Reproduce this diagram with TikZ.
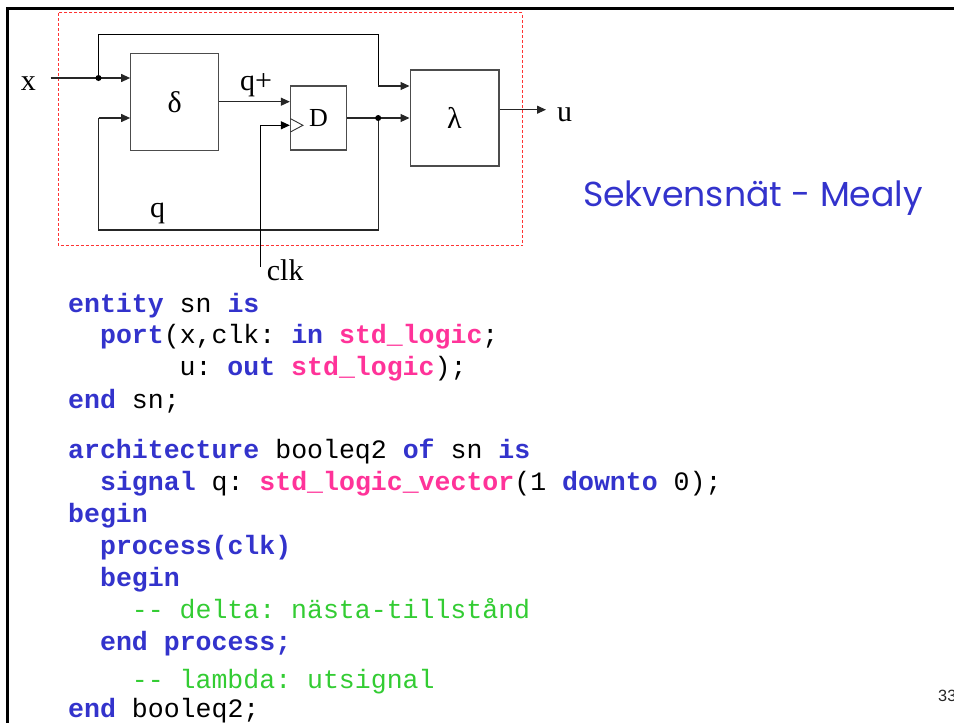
\documentclass[tikz,border=0pt]{standalone}
\usepackage{fontspec}
\setmainfont{Liberation Serif}
\newfontfamily\codefont[WordSpace={1,0,0}]{Liberation Mono}
\newfontfamily\titlefont{Poppins}
\newfontfamily\numfont{Liberation Sans}
\usetikzlibrary{arrows.meta}
\definecolor{kwblue}{RGB}{51,51,204}
\definecolor{typink}{RGB}{255,51,153}
\definecolor{cmgreen}{RGB}{51,204,51}
\definecolor{dashred}{RGB}{255,51,51}
\newcommand{\kw}[1]{{\bfseries\color{kwblue}#1}}
\newcommand{\ty}[1]{{\bfseries\color{typink}#1}}
\newcommand{\cm}[1]{{\color{cmgreen}#1}}
\tikzset{
  blockbox/.style={draw=black!70, line width=1.1pt, inner sep=0pt, font=\fontsize{30}{34}\selectfont},
  wire/.style={draw=black!85, line width=1.1pt},
  arr/.style={wire, -{Triangle[length=9pt,width=8pt]}},
  lbl/.style={anchor=base west, inner sep=0pt, font=\fontsize{30}{34}\selectfont},
  codeline/.style={anchor=base west, inner sep=0pt, font=\codefont\fontsize{26.55}{30}\selectfont\frenchspacing},
  junction/.style={circle, fill=black, inner sep=0pt, minimum size=6pt},
}
\begin{document}
\begin{tikzpicture}[x=1pt,y=-1pt]
\useasboundingbox (0,0) rectangle (954,723);
% slide frame
\draw[line width=2.6pt] (7.5,724) -- (7.5,8.6) -- (955,8.6);
% red dashed enclosure
\draw[dashred, line width=1pt, dash pattern=on 3pt off 2pt] (58.2,12.9) rectangle (522.7,245.5);
% blocks
\node[blockbox, minimum width=88pt, minimum height=96.3pt] (delta) at (174.7,101.9) {δ};
\node[blockbox, minimum width=56.4pt, minimum height=64pt, font=\fontsize{26}{30}\selectfont] (dff) at (318.6,118) {D};
\node[blockbox, minimum width=88.9pt, minimum height=96pt] (lambda) at (454.5,118) {λ};
% clock triangle
\draw[black!80, line width=0.9pt] (290.4,118.6) -- (302.9,125.3) -- (290.4,132);
% coordinates
\coordinate (xin) at (50.7,78);
\coordinate (ja) at (98.5,78);
\coordinate (topl) at (98.5,34.7);
\coordinate (topr) at (378.2,34.7);
\coordinate (topd) at (378.2,86);
\coordinate (jb) at (378.2,118);
\coordinate (fbr) at (378.2,230);
\coordinate (fbl) at (98.5,230);
\coordinate (fbu) at (98.5,118);
\coordinate (clkb) at (260.7,266.7);
\coordinate (clkt) at (260.7,125.3);
\coordinate (uout) at (546,109.7);
% wires
\draw[arr] (xin) -- (delta.west |- xin);
\draw[wire, black] (ja) -- (topl) -- (topr) -- (topd);
\draw[arr] (topd) -- (lambda.west |- topd);
\draw[arr] (delta.east |- 0,101.7) -- (dff.west |- 0,101.7);
\draw[wire] (dff.east |- jb) -- (jb);
\draw[arr] (jb) -- (lambda.west |- jb);
\draw[wire] (jb) -- (fbr) -- (fbl) -- (fbu);
\draw[arr] (fbu) -- (delta.west |- fbu);
\draw[wire, black] (clkb) -- (clkt);
\draw[arr, black] (clkt) -- (dff.west |- clkt);
\draw[arr] (lambda.east |- uout) -- (uout);
\node[junction] (dota) at (ja) {};
\node[junction] (dotb) at (jb) {};
% labels
\node[lbl] (lx) at (20.7,90) {x};
\node[lbl] (lqp) at (240,90) {q+};
\node[lbl] (lu) at (557,121.7) {u};
\node[lbl] (lq) at (150,217) {q};
\node[lbl] (lclk) at (266.7,280) {clk};
% title
\node[anchor=base, inner sep=0pt, text=kwblue, font=\titlefont\fontsize{34.7}{38}\selectfont] (title) at (753,206.7) {Sekvensnät - Mealy};
% code
\node[codeline] (c1) at (68,312) {\kw{entity} sn \kw{is}};
\node[codeline] (c2) at (99.9,343) {\kw{port}(x,clk: \kw{in} \ty{std\_logic};};
\node[codeline] (c3) at (179.5,375) {u: \kw{out} \ty{std\_logic});};
\node[codeline] (c4) at (68,408) {\kw{end} sn;};
\node[codeline] (c5) at (68,458) {\kw{architecture} booleq2 \kw{of} sn \kw{is}};
\node[codeline] (c6) at (99.9,490) {\kw{signal} q: \ty{std\_logic\_vector}(1 \kw{downto} 0);};
\node[codeline] (c7) at (68,522) {\kw{begin}};
\node[codeline] (c8) at (99.9,554) {\kw{process(clk)}};
\node[codeline] (c9) at (99.9,586) {\kw{begin}};
\node[codeline] (c10) at (131.7,618) {\cm{-- delta: nästa-tillstånd}};
\node[codeline] (c11) at (99.9,650) {\kw{end process;}};
\node[codeline] (c12) at (131.7,688) {\cm{-- lambda: utsignal}};
\node[codeline] (c13) at (68,717.5) {\kw{end} booleq2;};
% page number
\node[anchor=base west, inner sep=0pt, text=black!85, font=\numfont\fontsize{16.3}{18}\selectfont] (pnum) at (938,701.7) {33};
\end{tikzpicture}
\end{document}
